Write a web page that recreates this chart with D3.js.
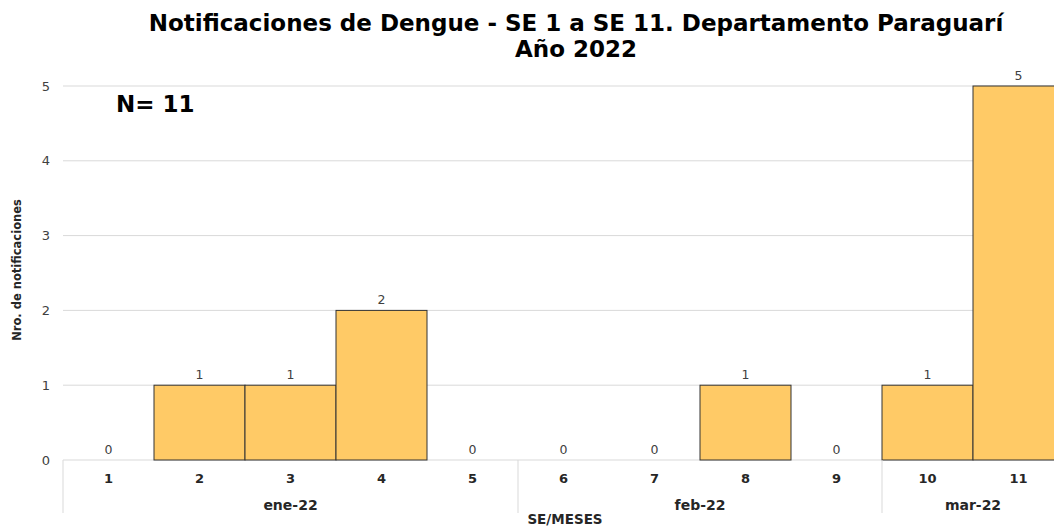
<!DOCTYPE html>
<html>
<head>
<meta charset="utf-8">
<script src="https://cdn.jsdelivr.net/npm/d3@7"></script>
<style>
  body { margin: 0; background: #fff; }
  svg { display: block; font-family: "DejaVu Sans", Verdana, sans-serif; }
</style>
</head>
<body>
<svg id="chart" width="1054" height="528"></svg>
<script>
// data
const weeks = ["1", "2", "3", "4", "5", "6", "7", "8", "9", "10", "11"];
const cases = [0, 1, 1, 2, 0, 0, 0, 1, 0, 1, 5];
const months = ["ene-22", "feb-22", "mar-22"];
const monthWeeks = [5, 4, 2];   // how many weeks fall in each month
const yTicks = [0, 1, 2, 3, 4, 5];

const margin = { top: 86, left: 63, bottom: 68 },
      bandW = 91,
      width = bandW * weeks.length,
      height = 528 - margin.top - margin.bottom;

const svg = d3.select("#chart");
const g = svg.append("g").attr("transform", `translate(${margin.left},${margin.top})`);

const x = d3.scaleBand().domain(weeks).range([0, width]).padding(0);
const y = d3.scaleLinear().domain([0, 5]).range([height, 0]);

// gridlines
g.selectAll(".grid")
  .data(yTicks)
  .enter().append("line")
  .attr("x1", 0).attr("x2", width)
  .attr("y1", d => y(d)).attr("y2", d => y(d))
  .attr("stroke", "#d9d9d9").attr("stroke-width", 1);

// y axis labels
g.append("g")
  .call(d3.axisLeft(y).tickValues(yTicks).tickFormat(d3.format("d")).tickSize(0).tickPadding(13))
  .call(a => a.select(".domain").remove())
  .selectAll("text")
  .attr("font-size", 13).attr("fill", "#404040")
  .style("font-family", "DejaVu Sans, sans-serif");

// bars
g.selectAll("rect")
  .data(cases)
  .enter().append("rect")
  .attr("x", (d, i) => x(weeks[i]))
  .attr("y", d => y(d))
  .attr("width", x.bandwidth())
  .attr("height", d => height - y(d))
  .attr("fill", "#ffca66")
  .attr("stroke", "#333")
  .attr("stroke-width", 1)
  .attr("display", d => d > 0 ? null : "none");

// value labels
g.selectAll(".val")
  .data(cases)
  .enter().append("text")
  .attr("x", (d, i) => x(weeks[i]) + x.bandwidth() / 2)
  .attr("y", d => y(d) - 6)
  .attr("text-anchor", "middle")
  .attr("font-size", 12.5).attr("fill", "#404040")
  .text(d => d);

// week labels
g.selectAll(".wk")
  .data(weeks)
  .enter().append("text")
  .attr("x", d => x(d) + x.bandwidth() / 2)
  .attr("y", height + 23)
  .attr("text-anchor", "middle")
  .attr("font-size", 13).attr("font-weight", "bold").attr("fill", "#262626")
  .text(d => d);

// month separators and labels
let start = 0;
const bounds = [0];
months.forEach((m, i) => {
  const end = start + monthWeeks[i];
  bounds.push(end);
  g.append("text")
    .attr("x", (start + end) / 2 * bandW)
    .attr("y", height + 50)
    .attr("text-anchor", "middle")
    .attr("font-size", 14).attr("font-weight", "bold").attr("fill", "#262626")
    .text(m);
  start = end;
});
g.selectAll(".sep")
  .data(bounds.slice(0, -1))
  .enter().append("line")
  .attr("x1", d => d * bandW).attr("x2", d => d * bandW)
  .attr("y1", height).attr("y2", height + 53)
  .attr("stroke", "#d9d9d9");

// axis title x
svg.append("text")
  .attr("x", 565).attr("y", 524)
  .attr("text-anchor", "middle")
  .attr("font-size", 13.5).attr("font-weight", "bold").attr("fill", "#262626")
  .text("SE/MESES");

// axis title y
svg.append("text")
  .attr("transform", "rotate(-90)")
  .attr("x", -270).attr("y", 21)
  .attr("text-anchor", "middle")
  .attr("font-size", 11.5).attr("font-weight", "bold").attr("fill", "#262626")
  .text("Nro. de notificaciones");

// title
svg.append("text")
  .attr("x", 576).attr("y", 31)
  .attr("text-anchor", "middle")
  .attr("font-size", 23).attr("font-weight", "bold").attr("fill", "#000")
  .text("Notificaciones de Dengue - SE 1 a SE 11. Departamento Paraguarí");
svg.append("text")
  .attr("x", 576).attr("y", 57)
  .attr("text-anchor", "middle")
  .attr("font-size", 23).attr("font-weight", "bold").attr("fill", "#000")
  .text("Año 2022");

// N label
svg.append("text")
  .attr("x", 116).attr("y", 112)
  .attr("font-size", 23).attr("font-weight", "bold").attr("fill", "#000")
  .text("N= 11");
</script>
</body>
</html>
